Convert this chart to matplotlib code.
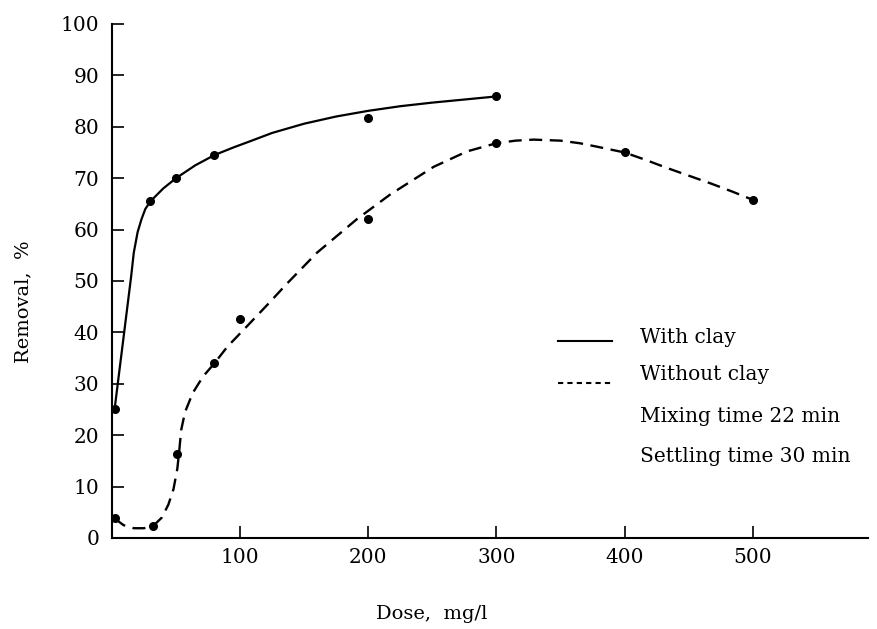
import matplotlib.pyplot as plt

# measured points (dose mg/l, removal %)
dose_clay = [2, 30, 50, 80, 200, 300]
removal_clay = [25, 65.5, 70, 74.5, 81.7, 85.9]

dose_noclay = [2, 32, 51, 80, 100, 200, 300, 400, 500]
removal_noclay = [3.8, 2.4, 16.4, 34, 42.6, 62.1, 76.8, 75, 65.8]

# hand-drawn curves
curve_clay_x = [2, 8, 12, 15, 17, 20, 23, 26, 30, 40, 50, 65, 80, 95, 108, 125, 150, 175, 200,
                225, 250, 275, 300]
curve_clay_y = [25, 37, 45, 51, 55.5, 59.5, 62, 64, 65.5, 68, 70, 72.5, 74.5, 76, 77.2, 78.8,
                80.6, 82, 83.1, 84, 84.7, 85.3, 85.9]

curve_noclay_x = [2, 9, 17, 25, 32, 39, 44, 48, 51, 52.5, 54, 57, 63, 71, 80, 90, 105, 121, 137,
                  160, 191, 217, 251, 277, 300, 315, 329, 350, 365, 379, 400, 416, 433, 450, 467,
                  484, 500]
curve_noclay_y = [3.8, 2.5, 1.9, 1.9, 2.3, 4.0, 6.5, 9.5, 13.5, 17, 21, 24.5, 28.2, 31.4, 34, 37.2,
                  41.1, 45.3, 49.6, 55.5, 62, 66.8, 72.2, 75.2, 76.8, 77.3, 77.5, 77.3, 76.8, 76.1,
                  75, 73.6, 72, 70.5, 69, 67.4, 65.8]

xticks = [100, 200, 300, 400, 500]
yticks = list(range(0, 101, 10))

plt.rcParams['font.family'] = 'DejaVu Serif'

fig = plt.figure(figsize=(8.77, 6.29), dpi=100)
ax = fig.add_axes([0.1277, 0.1447, 0.862, 0.8172])

ax.plot(curve_clay_x, curve_clay_y, color='black', linewidth=1.6, solid_joinstyle='round')
ax.plot(curve_noclay_x, curve_noclay_y, color='black', linewidth=1.7, dashes=(5.5, 3.2))
ax.plot(dose_clay, removal_clay, 'o', color='black', markersize=5.5, clip_on=False)
ax.plot(dose_noclay, removal_noclay, 'o', color='black', markersize=5.5, clip_on=False)

ax.set_xlim(0, 590)
ax.set_ylim(0, 100)
ax.set_xticks(xticks)
ax.set_yticks(yticks)
ax.tick_params(direction='in', length=8.5, width=1.2, labelsize=14.5)
ax.tick_params(axis='x', pad=7)
ax.tick_params(axis='y', pad=9)

for side in ['top', 'right']:
    ax.spines[side].set_visible(False)
for side in ['left', 'bottom']:
    ax.spines[side].set_linewidth(1.5)

ax.set_xlabel("Dose,  mg/l", fontsize=14)
ax.set_ylabel("Removal,  %", fontsize=14)
ax.xaxis.set_label_coords(0.423, -0.13)
ax.yaxis.set_label_coords(-0.105, 0.46)

# legend block drawn as text, like the original
ax.plot([348, 390], [38.4, 38.4], color='black', linewidth=1.5, clip_on=False)
ax.plot([348, 390], [30.2, 30.2], color='black', linewidth=1.5, dashes=(2.5, 2.0), clip_on=False)
ax.text(412, 39.0, "With clay", fontsize=14.5, va='center')
ax.text(412, 31.8, "Without clay", fontsize=14.5, va='center')
ax.text(412, 23.6, "Mixing time 22 min", fontsize=14.5, va='center')
ax.text(412, 15.9, "Settling time 30 min", fontsize=14.5, va='center')

fig.savefig("out.png", dpi=100)
